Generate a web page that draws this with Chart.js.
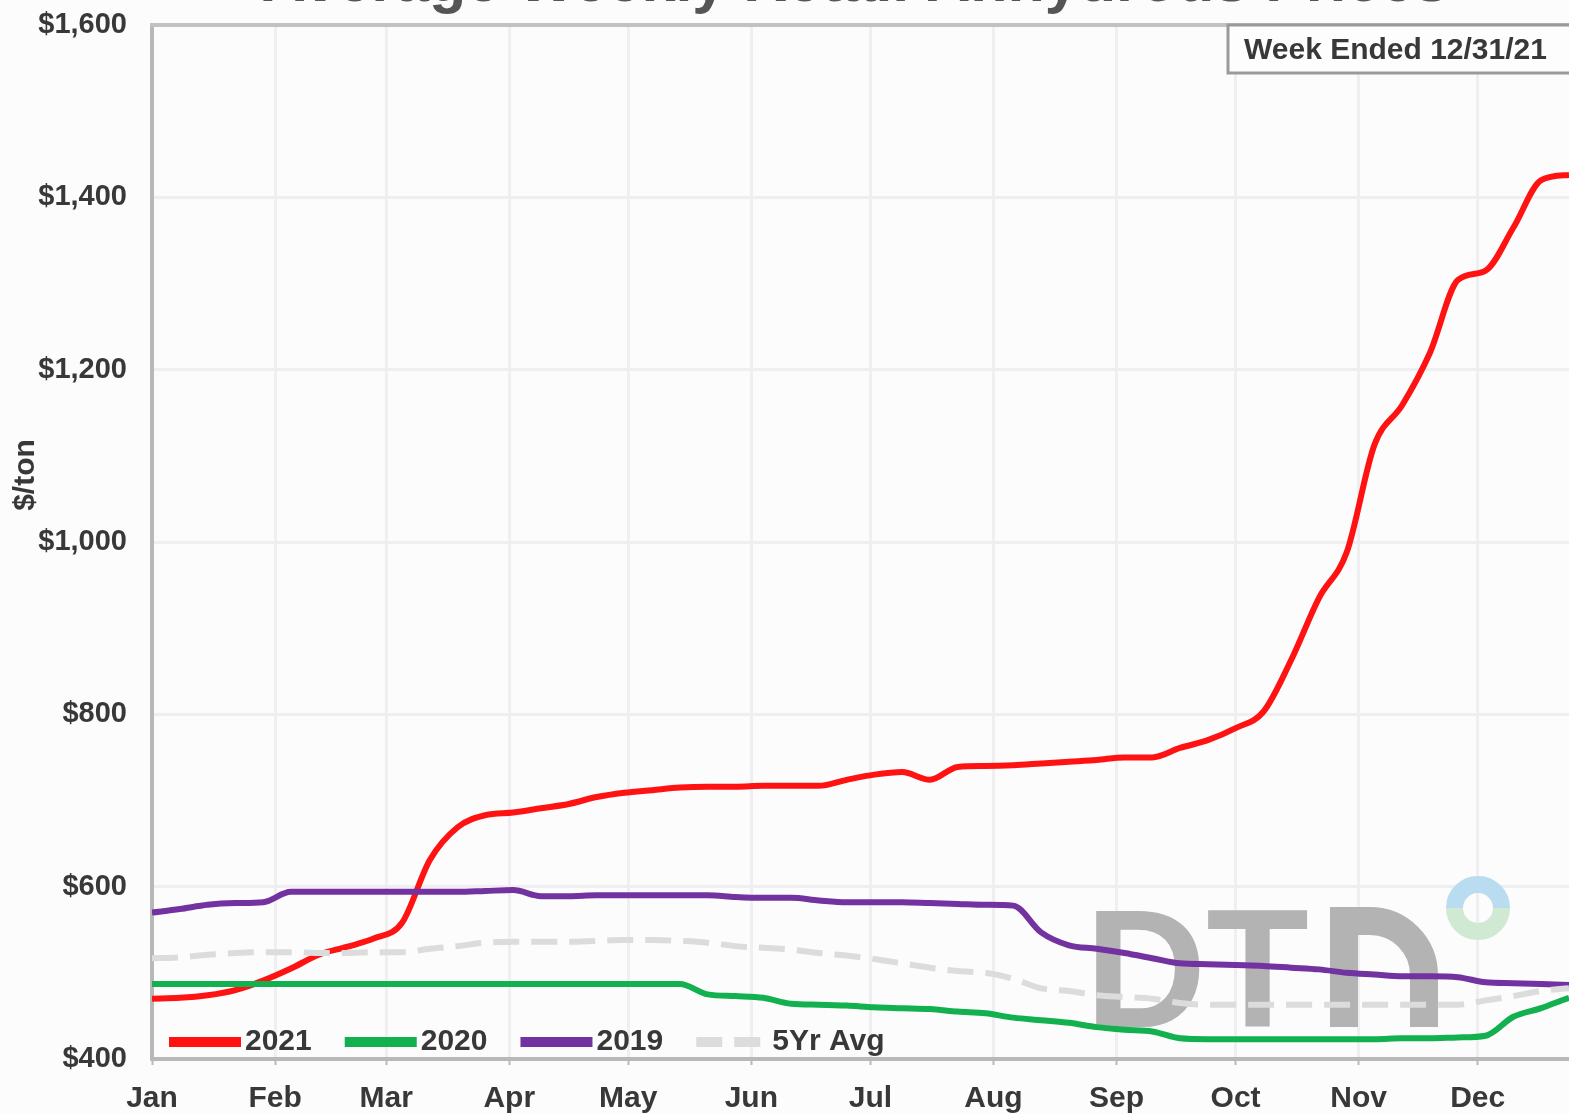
<!DOCTYPE html>
<html>
<head>
<meta charset="utf-8">
<script src="https://cdn.jsdelivr.net/npm/chart.js@4/dist/chart.umd.min.js"></script>
<style>
  html, body { margin: 0; padding: 0; background: #fcfcfc; overflow: hidden; }
  #wrap { width: 1569px; height: 1114px; }
</style>
</head>
<body>
<div id="wrap"><canvas id="myChart" width="1569" height="1114"></canvas></div>
<script>
// data set
var chartTitle = "Average Weekly Retail Anhydrous Prices";
var weekNote = "Week Ended 12/31/21";
var yTitle = "$/ton";

var monthLabels = ["Jan", "Feb", "Mar", "Apr", "May", "Jun", "Jul", "Aug", "Sep", "Oct", "Nov", "Dec"];
var monthStarts = ["01/01", "02/01", "03/01", "04/01", "05/01", "06/01", "07/01", "08/01", "09/01", "10/01", "11/01", "12/01"];

var weekEnded = [
  "01/01", "01/08", "01/15", "01/22", "01/29",
  "02/05", "02/12", "02/19", "02/26",
  "03/05", "03/12", "03/19", "03/26",
  "04/02", "04/09", "04/16", "04/23", "04/30",
  "05/07", "05/14", "05/21", "05/28",
  "06/04", "06/11", "06/18", "06/25",
  "07/02", "07/09", "07/16", "07/23", "07/30",
  "08/06", "08/13", "08/20", "08/27",
  "09/03", "09/10", "09/17", "09/24",
  "10/01", "10/08", "10/15", "10/22", "10/29",
  "11/05", "11/12", "11/19", "11/26",
  "12/03", "12/10", "12/17", "12/24", "12/31"
];

var price2021 = [470, 471, 474, 480, 491, 505, 521, 530, 540, 558,
  631, 669, 683, 686, 691, 696, 704, 709, 712, 715,
  716, 716, 717, 717, 717, 724, 730, 733, 724, 739,
  740, 741, 743, 745, 747, 750, 750, 761, 770, 784,
  803, 863, 935, 988, 1113, 1159, 1220, 1304, 1315, 1365,
  1420, 1426, 1428];

var price2020 = [487, 487, 487, 487, 487, 487, 487, 487, 487, 487,
  487, 487, 487, 487, 487, 487, 487, 487, 487, 487,
  475, 473, 471, 464, 463, 462, 460, 459, 458, 455,
  453, 448, 445, 442, 437, 434, 432, 424, 423, 423,
  423, 423, 423, 423, 423, 424, 424, 425, 427, 449,
  459, 471, 480];

var price2019 = [570, 574, 579, 581, 582, 594, 594, 594, 594, 594,
  594, 594, 595, 596, 589, 589, 590, 590, 590, 590,
  590, 588, 587, 587, 584, 582, 582, 582, 581, 580,
  579, 578, 547, 532, 528, 523, 517, 511, 510, 509,
  508, 506, 504, 500, 498, 496, 496, 495, 489, 488,
  487, 486, 485];

var avg5yr = [517, 518, 521, 523, 524, 524, 523, 523, 524, 524,
  528, 531, 535, 536, 536, 536, 537, 538, 538, 537,
  535, 531, 529, 527, 523, 520, 516, 511, 506, 502,
  500, 493, 482, 479, 474, 472, 470, 465, 463, 463,
  463, 463, 463, 463, 463, 463, 463, 463, 468, 473,
  479, 482, 485];

// day of year from "MM/DD"
function dayOf(s) {
  var p = s.split("/");
  return (Date.UTC(2021, +p[0] - 1, +p[1]) - Date.UTC(2021, 0, 1)) / 86400000;
}
var weekDays = weekEnded.map(dayOf);
var monthDays = monthStarts.map(dayOf);

function toPoints(vals) {
  return vals.map(function (v, i) { return { x: weekDays[i], y: v }; });
}

var FONT = "'Liberation Sans', Arial, sans-serif";
var TXT = "#383838";

var series = [
  { label: "2021", data: price2021, color: "#ff1212", dash: [] },
  { label: "2020", data: price2020, color: "#12b04e", dash: [] },
  { label: "2019", data: price2019, color: "#7232a0", dash: [] },
  { label: "5Yr Avg", data: avg5yr, color: "#dcdcdc", dash: [26, 12] }
];

// watermark + frame + legend + notes
const extras = {
  id: "extras",
  beforeDatasetsDraw(chart) {
    const ctx = chart.ctx;
    ctx.save();
    ctx.fillStyle = "#b3b3b3";
    ctx.font = "bold 168px " + FONT;
    ctx.textBaseline = "alphabetic";
    ctx.fillText("DT", 1085, 1027);
    ctx.strokeStyle = "#b3b3b3";
    ctx.lineWidth = 28;
    ctx.beginPath();
    ctx.moveTo(1344, 1027);
    ctx.lineTo(1344, 921);
    ctx.lineTo(1370, 921);
    ctx.arc(1370, 975, 54, -Math.PI / 2, 0);
    ctx.lineTo(1424, 1027);
    ctx.stroke();
    // ring
    ctx.lineWidth = 17;
    ctx.strokeStyle = "#b9dcf0";
    ctx.beginPath();
    ctx.arc(1478, 908, 23.5, Math.PI, 2 * Math.PI);
    ctx.stroke();
    ctx.strokeStyle = "#d0e9d3";
    ctx.beginPath();
    ctx.arc(1478, 908, 23.5, 0, Math.PI);
    ctx.stroke();
    ctx.restore();
  },
  afterDraw(chart) {
    const ctx = chart.ctx;
    const area = chart.chartArea;
    ctx.save();
    // top frame line
    ctx.strokeStyle = "#c2c2c2";
    ctx.lineWidth = 4;
    ctx.beginPath();
    ctx.moveTo(area.left - 2, area.top);
    ctx.lineTo(area.right, area.top);
    ctx.stroke();

    // title (cut off by the top edge)
    ctx.fillStyle = "#555";
    ctx.font = "bold 61px " + FONT;
    ctx.textAlign = "center";
    ctx.textBaseline = "alphabetic";
    ctx.fillText(chartTitle, 855, 1);

    // y axis title
    ctx.save();
    ctx.translate(26, 475);
    ctx.rotate(-Math.PI / 2);
    ctx.font = "bold 30px " + FONT;
    ctx.fillStyle = TXT;
    ctx.textAlign = "center";
    ctx.textBaseline = "middle";
    ctx.fillText(yTitle, 0, 0);
    ctx.restore();

    // week ended box
    ctx.fillStyle = "#fdfdfd";
    ctx.fillRect(1228, 25, 360, 48);
    ctx.strokeStyle = "#9a9a9a";
    ctx.lineWidth = 3;
    ctx.strokeRect(1228, 25, 360, 48);
    ctx.fillStyle = TXT;
    ctx.font = "bold 30px " + FONT;
    ctx.textAlign = "left";
    ctx.textBaseline = "middle";
    ctx.fillText(weekNote, 1244, 51);

    // legend inside plot, bottom left
    var x = 169, y = 1042;
    series.forEach(function (s) {
      ctx.strokeStyle = s.color;
      ctx.lineWidth = 10;
      ctx.setLineDash(s.dash.length ? s.dash : []);
      ctx.beginPath();
      ctx.moveTo(x, y);
      ctx.lineTo(x + 72, y);
      ctx.stroke();
      ctx.setLineDash([]);
      ctx.fillStyle = TXT;
      ctx.font = "bold 30px " + FONT;
      ctx.textBaseline = "middle";
      ctx.fillText(s.label, x + 76, y);
      x += 76 + ctx.measureText(s.label).width + 33;
    });
    ctx.restore();
  }
};

new Chart("myChart", {
  type: "line",
  data: {
    datasets: series.map(function (s) {
      return {
        label: s.label,
        data: toPoints(s.data),
        borderColor: s.color,
        backgroundColor: s.color,
        borderWidth: 6,
        borderDash: s.dash,
        pointRadius: 0,
        fill: false,
        cubicInterpolationMode: "monotone"
      };
    }).reverse()
  },
  options: {
    responsive: false,
    animation: false,
    layout: { padding: { top: 25, right: 0, left: 0, bottom: 0 } },
    plugins: {
      legend: { display: false },
      title: { display: false },
      tooltip: { enabled: false }
    },
    scales: {
      x: {
        type: "linear",
        min: 0,
        max: 357,
        afterBuildTicks: function (scale) {
          scale.ticks = monthDays.map(function (d) { return { value: d }; });
        },
        afterFit: function (scale) {
          scale.height = 55;
          scale.paddingLeft = 0;
          scale.paddingRight = 0;
        },
        grid: {
          color: "#efeff2",
          lineWidth: 3,
          tickColor: "#b8b8b8",
          tickLength: 6,
          tickWidth: 2
        },
        border: { color: "#b8b8b8", width: 4 },
        ticks: {
          autoSkip: false,
          maxRotation: 0,
          padding: 16,
          color: TXT,
          font: { family: FONT, size: 30, weight: "bold" },
          callback: function (value) {
            var i = monthDays.indexOf(value);
            return i >= 0 ? monthLabels[i] : "";
          }
        }
      },
      y: {
        min: 400,
        max: 1600,
        afterFit: function (scale) {
          scale.width = 152;
          scale.paddingTop = 0;
          scale.paddingBottom = 0;
        },
        grid: { color: "#efeff2", lineWidth: 3, drawTicks: false },
        border: { color: "#b8b8b8", width: 4 },
        ticks: {
          stepSize: 200,
          padding: 25,
          color: TXT,
          font: { family: FONT, size: 29, weight: "bold" },
          callback: function (v) { return "$" + v.toLocaleString("en-US"); }
        }
      }
    }
  },
  plugins: [extras]
});
</script>
</body>
</html>
